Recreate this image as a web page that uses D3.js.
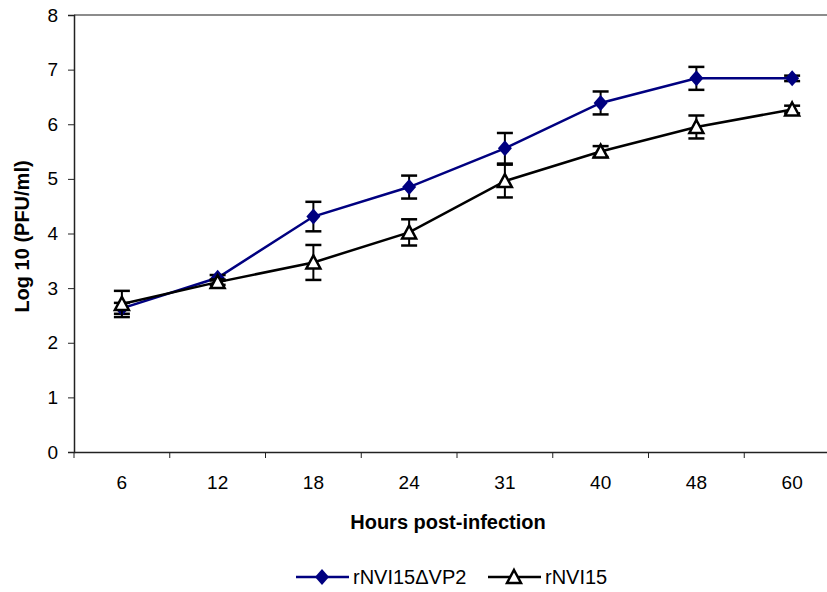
<!DOCTYPE html>
<html lang="en">
<head>
    <meta charset="UTF-8">
    <title>growth curve</title>
    <script src="https://d3js.org/d3.v7.min.js"></script>
    <style>
        body { margin: 0; background: #fff; }
        svg { font-family: "Liberation Sans", Arial, sans-serif; }
    </style>
</head>
<body>
    <svg></svg>
    <script>
        const hours = ['6', '12', '18', '24', '31', '40', '48', '60'];
        const deltaVP2 = [2.63, 3.19, 4.31, 4.85, 5.56, 6.39, 6.84, 6.84];
        const deltaVP2Err = [0.1, 0.05, 0.27, 0.21, 0.28, 0.21, 0.21, 0.05];
        const wildType = [2.71, 3.11, 3.47, 4.02, 4.96, 5.5, 5.95, 6.27];
        const wildTypeErr = [0.24, 0.05, 0.32, 0.24, 0.3, 0.1, 0.21, 0.07];
        const yTicks = [0, 1, 2, 3, 4, 5, 6, 7, 8];

        const series = [
            { name: 'rNVI15\u0394VP2', values: deltaVP2, err: deltaVP2Err, color: '#000080', symbol: 'diamond' },
            { name: 'rNVI15', values: wildType, err: wildTypeErr, color: '#000', symbol: 'triangle' }
        ];

        const svgWidth = 827;
        const svgHeight = 592;
        const margin = { top: 15, right: -13, bottom: 140, left: 74 };
        const width = svgWidth - margin.left - margin.right;
        const height = svgHeight - margin.top - margin.bottom;
        const fontSize = 19;
        const titleSize = 20;

        const svg = d3.select('svg')
            .attr('width', svgWidth)
            .attr('height', svgHeight);

        const g = svg.append('g')
            .attr('transform', `translate(${margin.left},${margin.top})`);

        const x = d3.scaleBand().domain(hours).range([0, width]);
        const y = d3.scaleLinear().domain([0, 8]).range([height, 0]);

        // top gridline
        g.append('line')
            .attr('x1', 0).attr('x2', width)
            .attr('y1', y(8)).attr('y2', y(8))
            .attr('stroke', '#8c8c8c').attr('stroke-width', 2);

        const yAxis = g.append('g')
            .call(d3.axisLeft(y).tickValues(yTicks).tickSize(6).tickPadding(10));
        yAxis.select('.domain').attr('stroke', '#222').attr('stroke-width', 1.5);
        yAxis.selectAll('.tick line').attr('stroke', '#222');
        yAxis.selectAll('.tick text').attr('font-size', fontSize).attr('fill', '#000');

        const xAxis = g.append('g')
            .attr('transform', `translate(0,${height})`)
            .call(d3.axisBottom(x).tickSize(0).tickPadding(24));
        xAxis.select('.domain').attr('stroke', '#222').attr('stroke-width', 1.5);
        xAxis.selectAll('.tick text').attr('font-size', fontSize).attr('fill', '#000');

        // category boundary ticks
        xAxis.selectAll('.boundary')
            .data(hours)
            .enter().append('line')
            .attr('x1', d => x(d)).attr('x2', d => x(d))
            .attr('y1', 0).attr('y2', 6)
            .attr('stroke', '#222');

        g.append('text')
            .attr('x', width / 2 - 9)
            .attr('y', height + 77)
            .attr('text-anchor', 'middle')
            .attr('font-size', titleSize)
            .attr('font-weight', 'bold')
            .text('Hours post-infection');

        g.append('text')
            .attr('transform', `translate(${-45},${height / 2 + 3}) rotate(-90)`)
            .attr('text-anchor', 'middle')
            .attr('font-size', titleSize)
            .attr('font-weight', 'bold')
            .text('Log 10 (PFU/ml)');

        const cx = d => x(d) + x.bandwidth() / 2;
        const diamond = 'M0,-8L7,0L0,8L-7,0Z';
        const triangle = 'M0,-7L7,6L-7,6Z';

        function drawMarker(sel, s) {
            if (s.symbol === 'diamond') {
                sel.attr('d', diamond).attr('fill', s.color).attr('stroke', 'none');
            } else {
                sel.attr('d', triangle).attr('fill', '#fff').attr('stroke', '#000').attr('stroke-width', 2.5);
            }
        }

        series.forEach(s => {
            const pts = hours.map((h, i) => ({ h, v: s.values[i], e: s.err[i] }));
            const sg = g.append('g');

            sg.append('path')
                .datum(pts)
                .attr('fill', 'none')
                .attr('stroke', s.color)
                .attr('stroke-width', 2.5)
                .attr('d', d3.line().x(d => cx(d.h)).y(d => y(d.v)));

            const eb = sg.selectAll('.err').data(pts).enter().append('g');
            eb.append('line')
                .attr('x1', d => cx(d.h)).attr('x2', d => cx(d.h))
                .attr('y1', d => y(d.v + d.e)).attr('y2', d => y(d.v - d.e))
                .attr('stroke', '#000').attr('stroke-width', 2);
            [1, -1].forEach(sign => {
                eb.append('line')
                    .attr('x1', d => cx(d.h) - 8).attr('x2', d => cx(d.h) + 8)
                    .attr('y1', d => y(d.v + sign * d.e)).attr('y2', d => y(d.v + sign * d.e))
                    .attr('stroke', '#000').attr('stroke-width', 2.5);
            });

            sg.selectAll('.mark').data(pts).enter().append('path')
                .attr('transform', d => `translate(${cx(d.h)},${y(d.v)})`)
                .call(drawMarker, s);
        });

        // legend
        const legendX = [296, 488];
        const legend = svg.append('g').attr('transform', 'translate(0,577)');
        series.forEach((s, i) => {
            const lg = legend.append('g').attr('transform', `translate(${legendX[i]},0)`);
            lg.append('line')
                .attr('x1', 0).attr('x2', 53)
                .attr('stroke', s.color).attr('stroke-width', 2.5);
            lg.append('path')
                .attr('transform', 'translate(26,0)')
                .call(drawMarker, s);
            lg.append('text')
                .attr('x', 57).attr('y', 7)
                .attr('font-size', titleSize)
                .text(s.name);
        });
    </script>
</body>
</html>
